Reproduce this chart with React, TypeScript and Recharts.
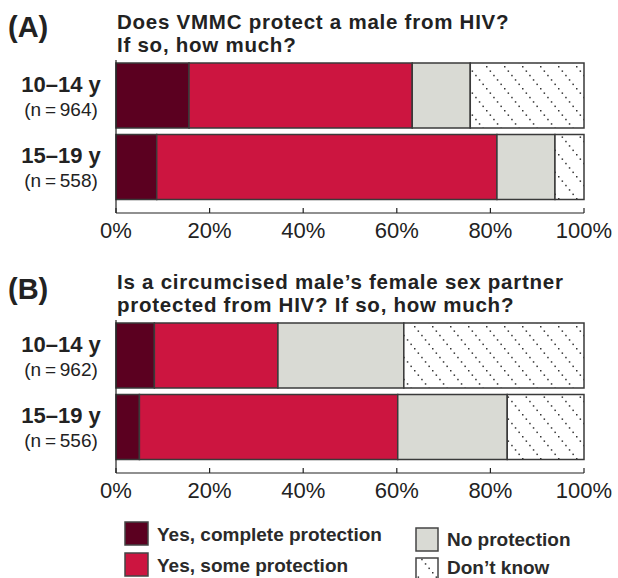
import React from 'react';
import { BarChart, Bar, XAxis, YAxis } from 'recharts';

// Response categories (legend order)
const answerLabels = ['Yes, complete protection', 'Yes, some protection', 'No protection', 'Don\u2019t know'];
const answerColors = ['#5b0020', '#cc1540', '#d9dad4', 'url(#dontKnowDots)'];

const ageGroups = ['10\u201314 y', '15\u201319 y'];
const percentTicks = [0, 20, 40, 60, 80, 100];

// (A) Does VMMC protect a male from HIV?
const sampleA = [964, 558];
const completeA = [15.6, 8.7];
const someA = [47.7, 72.7];
const noneA = [12.4, 12.4];
const unknownA = [24.3, 6.2];

// (B) Is the female partner protected?
const sampleB = [962, 556];
const completeB = [8.2, 5.0];
const someB = [26.4, 55.2];
const noneB = [26.9, 23.4];
const unknownB = [38.5, 16.4];

const seriesKeys = ['complete', 'some', 'none', 'unknown'];

const buildRows = (n: number[], complete: number[], some: number[], none: number[], unknown: number[]) =>
  ageGroups.map((group, i) => ({
    group,
    n: n[i],
    complete: complete[i],
    some: some[i],
    none: none[i],
    unknown: unknown[i],
  }));

const rowsA = buildRows(sampleA, completeA, someA, noneA, unknownA);
const rowsB = buildRows(sampleB, completeB, someB, noneB, unknownB);

const FONT = "'Liberation Sans', Arial, Helvetica, sans-serif";
const INK = '#222';
const EDGE = '#3a3a3a';

const AgeTick = ({ y, payload, counts }: any) => (
  <g>
    <text x={61} y={y - 4} textAnchor="middle" fontSize={22} fontWeight="bold" fill={INK}>
      {payload.value}
    </text>
    <text x={61} y={y + 20} textAnchor="middle" fontSize={19} fill={INK}>
      {`(n\u2009=\u2009${counts[payload.index]})`}
    </text>
  </g>
);

const Panel = ({ rows, counts }: { rows: any[]; counts: number[] }) => (
  <BarChart
    width={618}
    height={245}
    data={rows}
    layout="vertical"
    margin={{ top: 60, right: 34, bottom: 2, left: 0 }}
  >
    <XAxis
      type="number"
      domain={[0, 100]}
      ticks={percentTicks}
      interval={0}
      height={30}
      tickFormatter={(v) => `${v}%`}
      axisLine={{ stroke: INK, strokeWidth: 1.2 }}
      tickLine={{ stroke: INK, strokeWidth: 1.2 }}
      tickSize={-5}
      tickMargin={14}
      tick={{ fontSize: 22, fill: INK }}
    />
    <YAxis
      type="category"
      dataKey="group"
      width={116}
      padding={{ top: 0, bottom: 10 }}
      axisLine={{ stroke: INK, strokeWidth: 1.2 }}
      tickLine={false}
      tick={<AgeTick counts={counts} />}
    />
    {seriesKeys.map((key, i) => (
      <Bar
        key={key}
        dataKey={key}
        name={answerLabels[i]}
        stackId="answers"
        fill={answerColors[i]}
        stroke={EDGE}
        strokeWidth={1.5}
        barSize={65}
        isAnimationActive={false}
      />
    ))}
  </BarChart>
);

const legendItems = [
  { x: 125, y: 522, w: 23, h: 23, tx: 157, ty: 541 },
  { x: 125, y: 553, w: 23, h: 23, tx: 157, ty: 572 },
  { x: 416, y: 528, w: 22, h: 23, tx: 447, ty: 546 },
  { x: 416, y: 558, w: 22, h: 22, tx: 447, ty: 574 },
];

const titleStyle = { fontSize: 20.5, letterSpacing: 0.75 };

export default function App() {
  return (
    <div style={{ position: 'absolute', left: 0, top: 0, width: 618, height: 578, background: '#fff', fontFamily: FONT }}>
      <div style={{ position: 'absolute', left: 0, top: 0 }}>
        <Panel rows={rowsA} counts={sampleA} />
      </div>
      <div style={{ position: 'absolute', left: 0, top: 260 }}>
        <Panel rows={rowsB} counts={sampleB} />
      </div>

      <svg width={618} height={578} style={{ position: 'absolute', left: 0, top: 0, pointerEvents: 'none' }}>
        <defs>
          <pattern id="dontKnowDots" patternUnits="userSpaceOnUse" width={18} height={22}>
            <rect width={18} height={22} fill="#fff" />
            {[0, 1, 2, 3, 4].map((k) => (
              <rect key={k} x={k * 3.6} y={k * 4.4} width={1.5} height={1.5} fill="#333" />
            ))}
          </pattern>
        </defs>

        <g fill={INK} fontWeight="bold">
          <text x={8} y={37} fontSize={29}>(A)</text>
          <text x={117} y={29} style={titleStyle}>Does VMMC protect a male from HIV?</text>
          <text x={117} y={52} style={titleStyle}>If so, how much?</text>

          <text x={8} y={299} fontSize={29}>(B)</text>
          <text x={117} y={289} style={titleStyle}>Is a circumcised male’s female sex partner</text>
          <text x={117} y={312} style={titleStyle}>protected from HIV? If so, how much?</text>
        </g>

        {legendItems.map((item, i) => (
          <g key={answerLabels[i]}>
            <rect x={item.x} y={item.y} width={item.w} height={item.h} fill={answerColors[i]} stroke="#444" strokeWidth={1.5} />
            <text x={item.tx} y={item.ty} fontSize={19} fontWeight="bold" fill="#2a2a2a">
              {answerLabels[i]}
            </text>
          </g>
        ))}
      </svg>
    </div>
  );
}
